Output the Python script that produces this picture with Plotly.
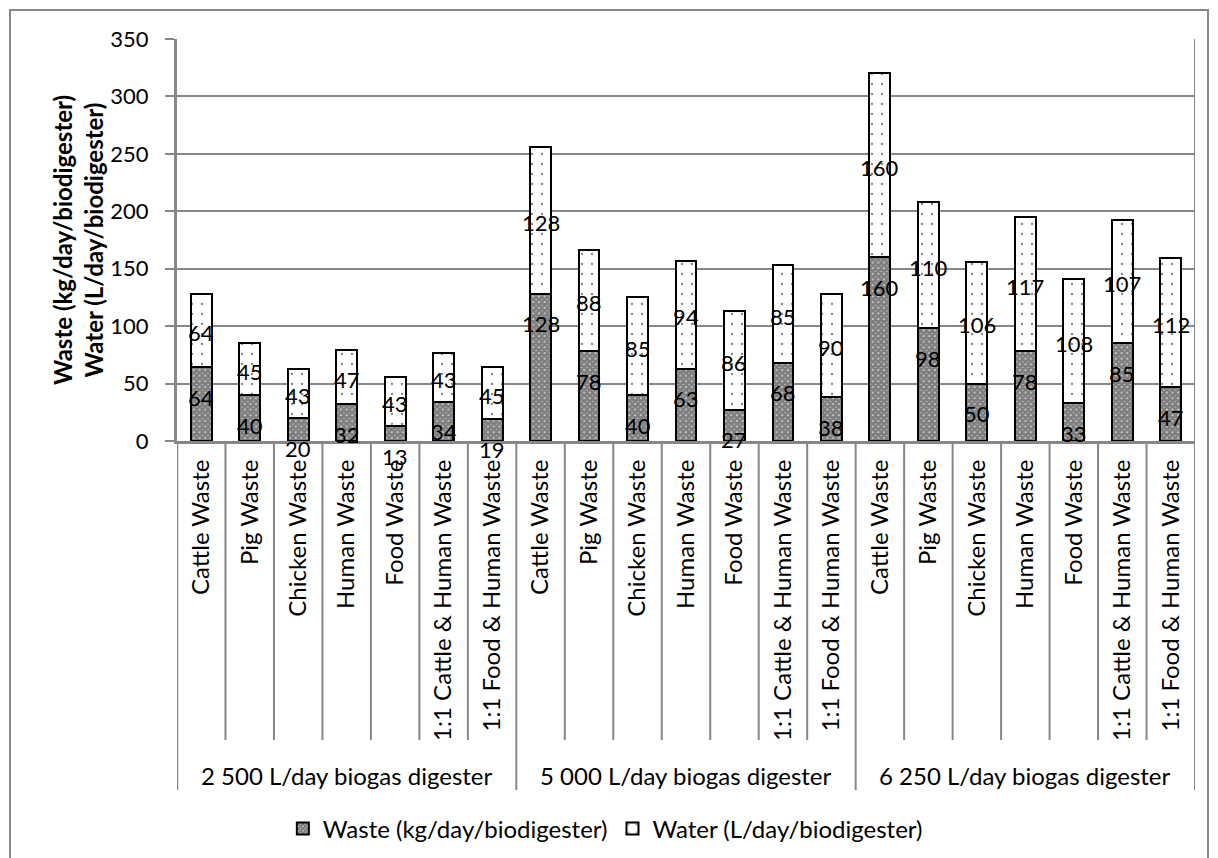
import plotly.graph_objects as go

groups = ["2 500 L/day biogas digester", "5 000 L/day biogas digester", "6 250 L/day biogas digester"]
categories = ["Cattle Waste", "Pig Waste", "Chicken Waste", "Human Waste", "Food Waste",
              "1:1 Cattle & Human Waste", "1:1 Food & Human Waste"]
waste_2500 = [64, 40, 20, 32, 13, 34, 19]
water_2500 = [64, 45, 43, 47, 43, 43, 45]
waste_5000 = [128, 78, 40, 63, 27, 68, 38]
water_5000 = [128, 88, 85, 94, 86, 85, 90]
waste_6250 = [160, 98, 50, 78, 33, 85, 47]
water_6250 = [160, 110, 106, 117, 108, 107, 112]
y_ticks = [0, 50, 100, 150, 200, 250, 300, 350]

waste = waste_2500 + waste_5000 + waste_6250
water = water_2500 + water_5000 + water_6250
labels = categories * len(groups)
xs = list(range(len(labels)))

FONT = "Lato, Carlito, Calibri, sans-serif"
FS_TXT = 24
FS_NUM = 22
GRID = "#878787"

W, H = 1218, 858
L, R, T, B = 177, 23, 39, 417
PW, PH = W - L - R, H - T - B

def px_y(py):
    return (T + PH - py) / PH

def px_x(px):
    return (px - L) / PW

fig = go.Figure()
fig.add_trace(go.Bar(
    x=xs, y=waste, name="Waste (kg/day/biodigester)", width=0.43,
    marker=dict(color="white", line=dict(color="black", width=2),
                pattern=dict(shape="x", size=4, solidity=0.9, fgcolor="black", bgcolor="white")),
))
fig.add_trace(go.Bar(
    x=xs, y=water, name="Water (L/day/biodigester)", width=0.43,
    marker=dict(color="white", line=dict(color="black", width=2),
                pattern=dict(shape=".", size=10, solidity=0.04, fgcolor="black", bgcolor="white")),
))

ann = []
for i in xs:
    ann.append(dict(x=i, y=waste[i], xref="x", yref="y", text=str(waste[i]), showarrow=False,
                    yshift=-30, font=dict(family=FONT, size=FS_NUM, color="black")))
    ann.append(dict(x=i, y=waste[i] + water[i] / 2, xref="x", yref="y", text=str(water[i]),
                    showarrow=False, yshift=-2, font=dict(family=FONT, size=FS_NUM, color="black")))

n = len(categories)
for g, name in enumerate(groups):
    ann.append(dict(x=g * n + (n - 1) / 2, y=px_y(775), xref="x", yref="paper", text=name,
                    showarrow=False, yanchor="middle", font=dict(family=FONT, size=FS_TXT, color="black")))

shapes = []
for k in range(1, len(labels)):
    boundary = k - 0.5
    y0 = px_y(790) if k % n == 0 else px_y(740)
    shapes.append(dict(type="line", xref="x", yref="paper", x0=boundary, x1=boundary,
                       y0=y0, y1=0, line=dict(color=GRID, width=2)))
shapes.append(dict(type="line", xref="x", yref="paper", x0=-0.5, x1=-0.5, y0=px_y(790), y1=0,
                   line=dict(color=GRID, width=2.5)))
shapes.append(dict(type="line", xref="x", yref="paper", x0=len(labels) - 0.5, x1=len(labels) - 0.5,
                   y0=px_y(790), y1=1, line=dict(color=GRID, width=2)))
shapes.append(dict(type="path", xref="paper", yref="paper",
                   path=f"M {px_x(10)} {px_y(870)} L {px_x(10)} {px_y(10)} L {px_x(1208)} {px_y(10)} L {px_x(1208)} {px_y(870)}",
                   line=dict(color=GRID, width=2)))

fig.update_layout(
    width=W, height=H, margin=dict(l=L, r=R, t=T, b=B, autoexpand=False),
    paper_bgcolor="white", plot_bgcolor="white",
    barmode="stack",
    font=dict(family=FONT, size=FS_TXT, color="black"),
    showlegend=True,
    legend=dict(orientation="h", xref="container", yref="container", x=0.497, y=1 - 829 / H,
                xanchor="center", yanchor="middle", font=dict(family=FONT, size=FS_TXT),
                itemwidth=30, traceorder="normal", bgcolor="rgba(0,0,0,0)"),
    annotations=ann, shapes=shapes,
    xaxis=dict(range=[-0.5, len(labels) - 0.5], tickvals=xs, ticktext=labels, tickangle=-90,
               showgrid=False, zeroline=False, showline=True, linecolor=GRID, linewidth=3,
               ticks="", tickfont=dict(family=FONT, size=FS_TXT), ticklabelstandoff=6),
    yaxis=dict(range=[0, 350], tickvals=y_ticks, showgrid=True, gridcolor=GRID, gridwidth=2,
               zeroline=False, showline=True, linecolor=GRID, linewidth=3,
               ticks="outside", ticklen=9, tickcolor=GRID, tickwidth=2,
               tickfont=dict(family=FONT, size=FS_NUM), ticklabelstandoff=12,
               title=dict(text="<b>Waste (kg/day/biodigester)<br>Water (L/day/biodigester)</b>",
                          font=dict(family=FONT, size=FS_TXT), standoff=0)),
)

fig.write_html("out.html", config={"displayModeBar": False},
               post_script="document.body.style.margin='0';")
